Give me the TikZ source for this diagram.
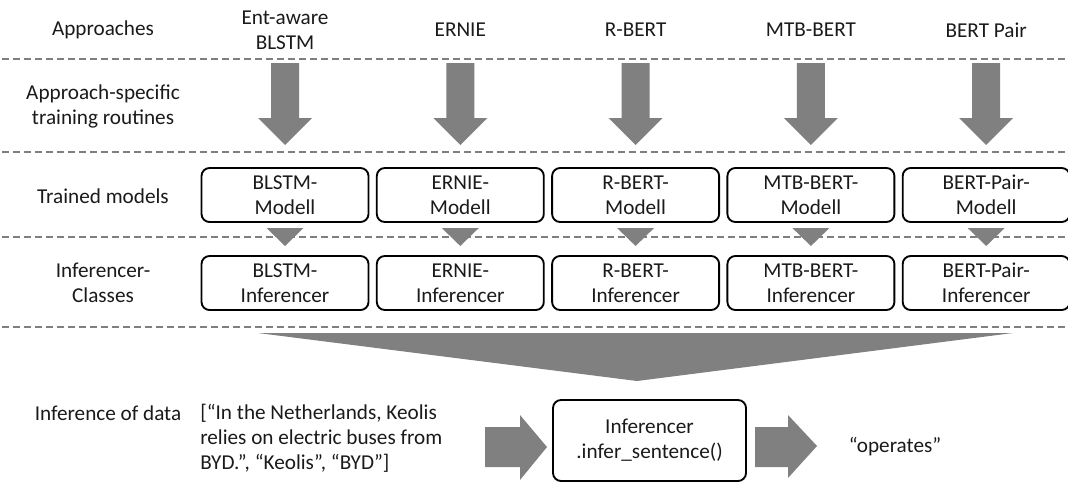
\documentclass[tikz,border=0pt]{standalone}
\usepackage{fontspec}
\setmainfont{Carlito}
\definecolor{arrowgray}{HTML}{808080}
\definecolor{dashgray}{HTML}{7F7F7F}
\definecolor{txt}{HTML}{1A1A1A}
\tikzset{
  lbl/.style={font=\fontsize{15.9}{18.75}\selectfont, text=txt, align=center, inner sep=0pt},
  rbox/.style={lbl, draw=black, line width=1.4pt, rounded corners=6pt,
    minimum width=125.25pt, minimum height=40.5pt},
  sep/.style={draw=dashgray, line width=1.1pt, dash pattern=on 5.25pt off 3pt},
  blk/.style={fill=arrowgray, draw=none}
}
\begin{document}
\begin{tikzpicture}[x=0.75pt, y=-0.75pt]
\useasboundingbox (0,0) rectangle (1068,482);
% separators
\foreach \yy/\nm in {59/s1, 152/s2, 237/s3, 327/s4} {
  \coordinate (\nm a) at (2,\yy);
  \coordinate (\nm b) at (1066,\yy);
  \draw[sep] (\nm a) -- (\nm b);
}
% row labels
\node[lbl] (rApp) at (103,30) {Approaches};
\node[lbl] (rTrain) at (103,106) {Approach-specific\\training routines};
\node[lbl] (rModel) at (103,196) {Trained models};
\node[lbl] (rInf) at (103,283) {Inferencer-\\Classes};
\node[lbl] (rData) at (108,413) {Inference of data};
% column headers
\node[lbl] (h1) at (285,30) {Ent-aware\\BLSTM};
\node[lbl] (h2) at (460.3,30) {ERNIE};
\node[lbl] (h3) at (635.6,30) {R-BERT};
\node[lbl] (h4) at (810.9,30) {MTB-BERT};
\node[lbl] (h5) at (986.2,30) {BERT Pair};
% big down arrows (training routines)
\foreach \c in {285,460.3,635.6,810.9,986.2} {
  \fill[blk] ({\c-14},63) -- ({\c+14},63) -- ({\c+14},118) -- ({\c+27},118)
    -- (\c,145) -- ({\c-27},118) -- ({\c-14},118) -- cycle;
}
% model boxes
\node[rbox] (m1) at (285,195) {BLSTM-\\Modell};
\node[rbox] (m2) at (460.3,195) {ERNIE-\\Modell};
\node[rbox] (m3) at (635.6,195) {R-BERT-\\Modell};
\node[rbox] (m4) at (810.9,195) {MTB-BERT-\\Modell};
\node[rbox] (m5) at (986.2,195) {BERT-Pair-\\Modell};
% small triangles
\foreach \c in {285,460.3,635.6,810.9,986.2} {
  \fill[blk] ({\c-18.5},228) -- ({\c+18.5},228) -- (\c,246) -- cycle;
}
% inferencer boxes
\node[rbox] (i1) at (285,283) {BLSTM-\\Inferencer};
\node[rbox] (i2) at (460.3,283) {ERNIE-\\Inferencer};
\node[rbox] (i3) at (635.6,283) {R-BERT-\\Inferencer};
\node[rbox] (i4) at (810.9,283) {MTB-BERT-\\Inferencer};
\node[rbox] (i5) at (986.2,283) {BERT-Pair-\\Inferencer};
% funnel
\fill[blk] (258,333) -- (1013,333) -- (637,381) -- cycle;
% bottom row
\node[lbl, anchor=west, align=left] (quote) at (200,438)
  {[“In the Netherlands, Keolis\\relies on electric buses from\\BYD.”, “Keolis”, “BYD”]};
\node[rbox, minimum width=144.75pt, minimum height=60.75pt] (inf) at (649.5,440.5)
  {Inferencer\\.infer\_sentence()};
\node[lbl] (out) at (895,447) {“operates”};
% block arrows
\fill[blk] (485,427) -- (520,427) -- (520,415) -- (547,447) -- (520,480)
  -- (520,467) -- (485,467) -- cycle;
\fill[blk] (755,427) -- (788,427) -- (788,415) -- (817,446) -- (788,478)
  -- (788,467) -- (755,467) -- cycle;
\end{tikzpicture}
\end{document}
